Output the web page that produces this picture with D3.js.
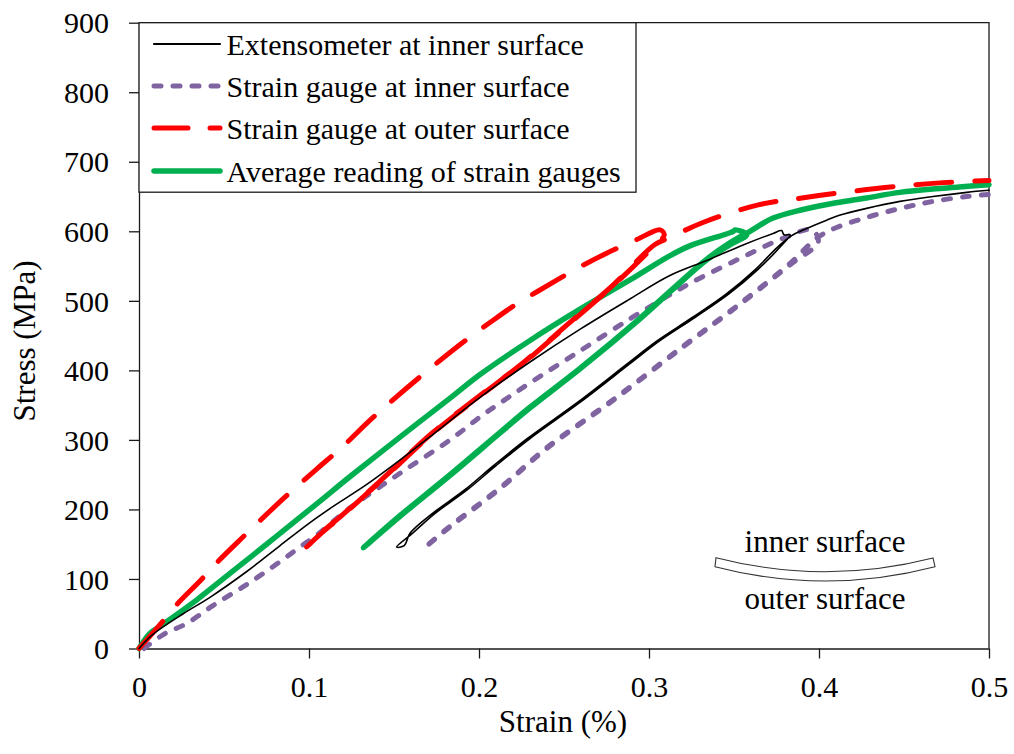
<!DOCTYPE html>
<html>
<head>
<meta charset="utf-8">
<script src="https://cdn.jsdelivr.net/npm/d3@7"></script>
<style>
  body { margin: 0; background: #fff; }
  svg { display: block; }
  text { font-family: "Liberation Serif", "Times New Roman", serif; fill: #000; }
</style>
</head>
<body>
<div id="chart"></div>
<script>
// Axis ticks
const xTicks = [0, 0.1, 0.2, 0.3, 0.4, 0.5];
const xTickLabels = ["0", "0.1", "0.2", "0.3", "0.4", "0.5"];
const yTicks = [0, 100, 200, 300, 400, 500, 600, 700, 800, 900];

// Series: [strain (%), stress (MPa)] in recording order (load, unload, reload)
const extensometerInner = [
  [0, 0], [0.008, 20], [0.026, 50], [0.042, 74], [0.063, 110], [0.083, 148], [0.1, 180],
  [0.114, 204], [0.134, 236], [0.154, 272], [0.175, 312], [0.2, 360], [0.23, 412],
  [0.26, 460], [0.289, 503], [0.312, 536], [0.334, 558], [0.355, 580], [0.373, 597],
  [0.378, 601], [0.3794, 595], [0.383, 595],
  // unloading
  [0.377, 577], [0.364, 545], [0.347, 510], [0.327, 476], [0.306, 442], [0.289, 410],
  [0.26, 355], [0.23, 302], [0.21, 263], [0.193, 228], [0.174, 194], [0.161, 166], [0.1515, 146],
  // reloading
  [0.156, 148], [0.1595, 166], [0.1725, 194], [0.1915, 228], [0.2085, 263], [0.2285, 302],
  [0.2585, 355], [0.2875, 410], [0.3045, 442], [0.3255, 476], [0.3455, 510], [0.3625, 545],
  [0.3755, 577], [0.3835, 593], [0.3927, 604], [0.4045, 616], [0.412, 623], [0.428, 633],
  [0.4476, 643], [0.467, 650], [0.487, 656], [0.5, 659]
];

const gaugeInner = [
  [0.003, 0], [0.0143, 20], [0.028, 36], [0.0437, 62], [0.0634, 92], [0.083, 125],
  [0.0947, 146], [0.1045, 163], [0.124, 202], [0.1535, 252], [0.183, 300], [0.2006, 333],
  [0.2124, 353], [0.23, 382], [0.2594, 428], [0.2888, 474], [0.3104, 506], [0.324, 525],
  [0.3535, 561], [0.379, 590], [0.3957, 602], [0.3996, 585],
  // unloading
  [0.383, 552], [0.3535, 495], [0.3202, 434], [0.279, 357], [0.24, 288], [0.2124, 230],
  [0.183, 175], [0.168, 145],
  // reloading
  [0.183, 176], [0.2124, 231], [0.24, 289], [0.279, 358], [0.3202, 435], [0.3535, 496],
  [0.383, 554], [0.3986, 590], [0.408, 603], [0.428, 620], [0.448, 633], [0.467, 643],
  [0.487, 650], [0.5, 653]
];

const gaugeOuter = [
  [0, 0], [0.008, 22], [0.014, 39], [0.021, 60], [0.037, 100], [0.046, 124], [0.061, 160],
  [0.086, 218], [0.1045, 258], [0.12, 291], [0.138, 333], [0.165, 390], [0.192, 443],
  [0.21, 475], [0.22, 492], [0.248, 533], [0.261, 551], [0.279, 573], [0.2927, 588],
  [0.3065, 602], [0.309, 595],
  // unloading
  [0.3035, 580], [0.279, 522], [0.2516, 464], [0.226, 410], [0.2124, 385], [0.199, 360],
  [0.173, 310], [0.1437, 244], [0.12, 192], [0.1065, 164], [0.0986, 146],
  // reloading
  [0.1065, 165], [0.12, 193], [0.1437, 245], [0.173, 311], [0.199, 361], [0.226, 411],
  [0.2516, 465], [0.279, 523], [0.3035, 581], [0.3124, 591], [0.331, 612], [0.3643, 638],
  [0.39, 648], [0.418, 657], [0.4476, 665], [0.473, 670], [0.5, 673]
];

const gaugeAverage = [
  [0, 0], [0.0065, 22], [0.0124, 32], [0.034, 70], [0.0535, 108], [0.073, 146],
  [0.0928, 185], [0.1065, 212], [0.124, 247], [0.1535, 304], [0.183, 360], [0.2006, 394],
  [0.23, 443], [0.2594, 488], [0.2888, 530], [0.3124, 565], [0.324, 579],
  [0.3496, 600], [0.3506, 602], [0.3575, 595],
  // unloading
  [0.348, 581], [0.334, 559], [0.3143, 517], [0.2947, 474], [0.2594, 402], [0.23, 346],
  [0.2124, 310], [0.183, 249], [0.1535, 190], [0.132, 145],
  // reloading
  [0.1535, 191], [0.183, 250], [0.2124, 311], [0.23, 347], [0.2594, 403],
  [0.2947, 475], [0.3143, 518], [0.334, 560], [0.348, 584], [0.3594, 600], [0.373, 619],
  [0.39, 631], [0.41, 641], [0.428, 648], [0.4476, 656], [0.473, 662], [0.5, 667]
];

const seriesNames = [
  "Extensometer at inner surface",
  "Strain gauge at inner surface",
  "Strain gauge at outer surface",
  "Average reading of strain gauges"
];

const W = 1014, H = 754;
const svg = d3.select("#chart").append("svg").attr("width", W).attr("height", H);

const x = d3.scaleLinear().domain([0, 0.5]).range([139, 989]);
const y = d3.scaleLinear().domain([0, 900]).range([648.5, 22.7]);

const axisColor = "#1a1a1a";

// plot frame (top and right)
svg.append("path")
  .attr("d", `M${x(0)},${y(900)}H${x(0.5)}V${y(0)}`)
  .attr("fill", "none").attr("stroke", axisColor).attr("stroke-width", 1.3);

// axes
const gx = svg.append("g").attr("transform", `translate(0,${y(0)})`)
  .call(d3.axisBottom(x).tickValues(xTicks).tickSize(10).tickSizeOuter(0)
    .tickFormat((d, i) => xTickLabels[i]));
gx.selectAll("text").attr("y", 48).attr("dy", 0).style("font-size", "30px")
  .style("font-family", "'Liberation Serif', serif");

const gy = svg.append("g").attr("transform", `translate(${x(0)},0)`)
  .call(d3.axisLeft(y).tickValues(yTicks).tickSize(10).tickSizeOuter(0).tickFormat(d3.format("d")));
gy.selectAll("text").attr("x", -30).attr("dy", "0.34em").style("font-size", "30px")
  .style("font-family", "'Liberation Serif', serif");

[gx, gy].forEach(g => {
  g.attr("font-family", null);
  g.select(".domain").attr("stroke", axisColor).attr("stroke-width", 1.3);
  g.selectAll(".tick line").attr("stroke", axisColor).attr("stroke-width", 1.3);
  g.selectAll("text").attr("fill", "#000");
});

// axis titles
svg.append("text").attr("x", 563).attr("y", 732).attr("text-anchor", "middle")
  .style("font-size", "31px").text("Strain (%)");
svg.append("text").attr("transform", "translate(35,341) rotate(-90)")
  .attr("text-anchor", "middle").style("font-size", "31px").text("Stress (MPa)");

// curves
const line = d3.line().x(d => x(d[0])).y(d => y(d[1])).curve(d3.curveCatmullRom.alpha(0.5));
const styles = [
  { data: gaugeInner, color: "#8064A2", width: 5, dash: "7,12" },
  { data: gaugeAverage, color: "#00B050", width: 5.5, dash: null },
  { data: gaugeOuter, color: "#FF0000", width: 5, dash: "36,23" },
  { data: extensometerInner, color: "#000000", width: 1.6, dash: null }
];
styles.forEach(s => {
  svg.append("path").datum(s.data)
    .attr("d", line)
    .attr("fill", "none")
    .attr("stroke", s.color)
    .attr("stroke-width", s.width)
    .attr("stroke-linecap", "round")
    .attr("stroke-linejoin", "round")
    .attr("stroke-dasharray", s.dash);
});

// legend
const legend = svg.append("g");
legend.append("rect").attr("x", 139).attr("y", 22.7).attr("width", 497).attr("height", 169.5)
  .attr("fill", "#fff").attr("stroke", axisColor).attr("stroke-width", 1.3);
const legendStyles = [
  { color: "#000000", width: 2.2, dash: null },
  { color: "#8064A2", width: 5, dash: "7,12" },
  { color: "#FF0000", width: 5, dash: "34,22" },
  { color: "#00B050", width: 5.5, dash: null }
];
const legendRows = [44, 86, 128, 171];
seriesNames.forEach((name, i) => {
  const ly = legendRows[i];
  const st = legendStyles[i];
  legend.append("line").attr("x1", 154).attr("x2", 220).attr("y1", ly).attr("y2", ly)
    .attr("stroke", st.color).attr("stroke-width", st.width)
    .attr("stroke-linecap", "round").attr("stroke-dasharray", st.dash);
  legend.append("text").attr("x", 226.5).attr("y", ly + 10.5)
    .style("font-size", "30px").text(name);
});

// bent plate sketch
const inset = svg.append("g");
inset.append("path")
  .attr("d", "M716,557.7 Q825,585.6 933,558 L935,566.7 Q825,595.3 715,566.7 Z")
  .attr("fill", "#fff").attr("stroke", "#333").attr("stroke-width", 1.1);
inset.append("text").attr("x", 825).attr("y", 552).attr("text-anchor", "middle")
  .style("font-size", "31px").text("inner surface");
inset.append("text").attr("x", 825).attr("y", 609).attr("text-anchor", "middle")
  .style("font-size", "31px").text("outer surface");
</script>
</body>
</html>
